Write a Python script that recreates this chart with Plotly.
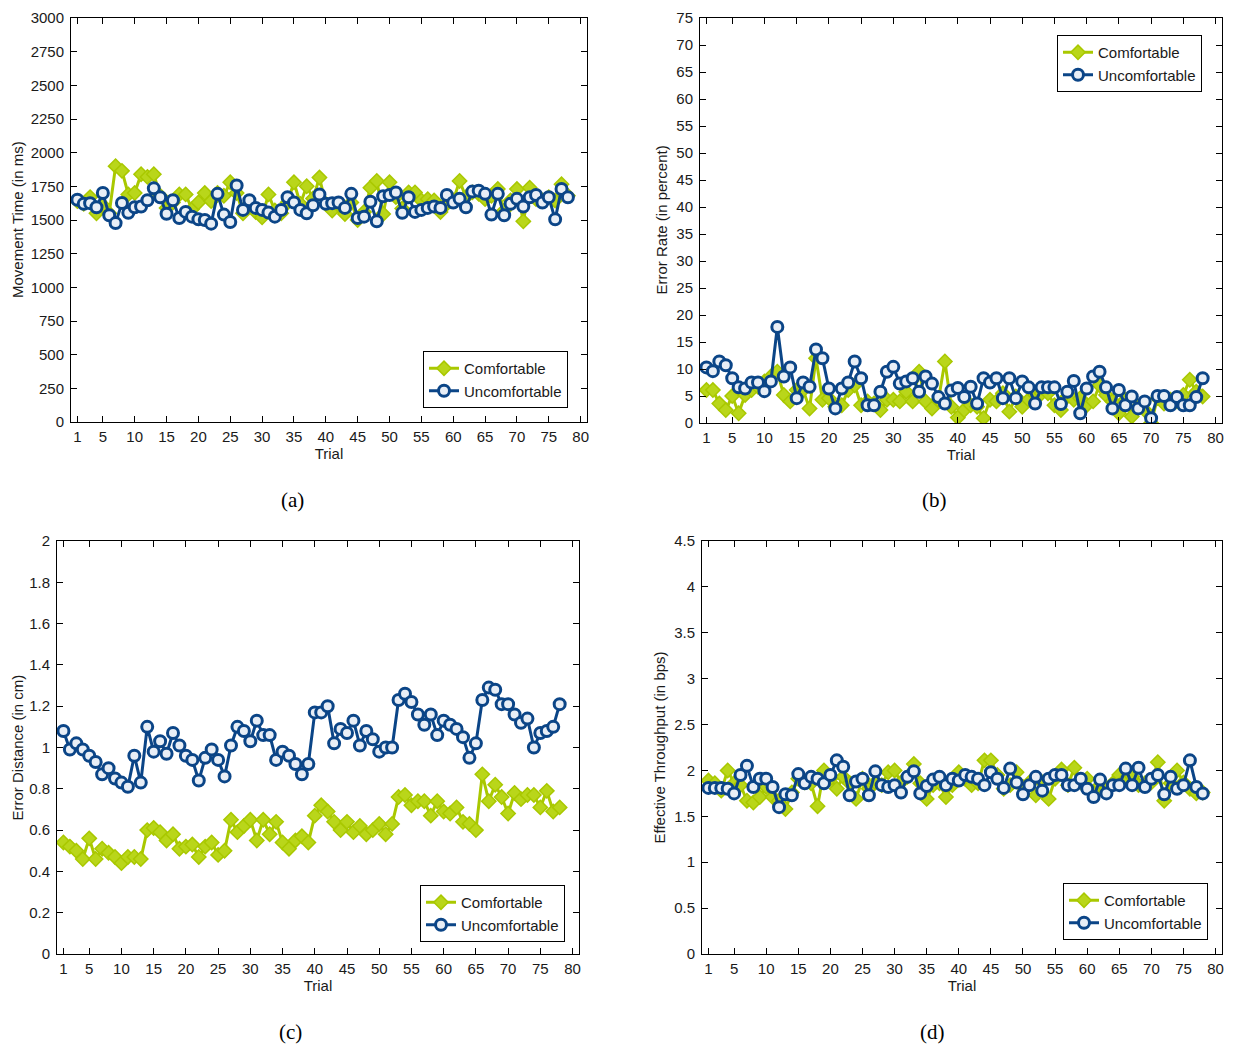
import plotly.graph_objects as go

trials = list(range(1, 79))
x_ticks = [1, 5, 10, 15, 20, 25, 30, 35, 40, 45, 50, 55, 60, 65, 70, 75, 80]

# (a) Movement time (ms)
mt_comfortable = [1640, 1620, 1670, 1550, 1610, 1550, 1900, 1865, 1690, 1700, 1840, 1820, 1840, 1680, 1590, 1630,
                  1690, 1690, 1580, 1630, 1700, 1640, 1700, 1680, 1780, 1700, 1550, 1620, 1560, 1520, 1690, 1570,
                  1550, 1630, 1780, 1620, 1750, 1660, 1815, 1620, 1570, 1610, 1545, 1630, 1500, 1560, 1740, 1790,
                  1545, 1780, 1670, 1585, 1705, 1705, 1645, 1655, 1645, 1560, 1620, 1645, 1790, 1670, 1705, 1695,
                  1655, 1680, 1730, 1570, 1645, 1730, 1490, 1740, 1655, 1645, 1670, 1645, 1765, 1680]
mt_uncomfortable = [1650, 1620, 1625, 1595, 1700, 1535, 1477, 1627, 1553, 1595, 1600, 1647, 1735, 1669, 1546, 1647,
                    1515, 1560, 1525, 1505, 1500, 1473, 1694, 1540, 1485, 1756, 1575, 1647, 1590, 1575, 1555, 1525,
                    1575, 1669, 1630, 1575, 1550, 1610, 1690, 1620, 1625, 1630, 1590, 1694, 1515, 1525, 1635, 1490,
                    1676, 1686, 1705, 1553, 1669, 1560, 1575, 1590, 1600, 1590, 1686, 1630, 1657, 1595, 1711, 1718,
                    1694, 1540, 1694, 1535, 1620, 1657, 1600, 1669, 1686, 1630, 1669, 1505, 1730, 1669]

# (b) Error rate (percent)
er_comfortable = [6.1, 6.1, 3.6, 2.4, 5.0, 1.8, 5.2, 6.1, 6.7, 7.7, 8.6, 9.5, 5.2, 4.0, 6.1, 6.1, 2.7, 12.0, 4.3,
                  4.6, 3.0, 3.3, 6.1, 7.0, 3.3, 4.0, 3.6, 2.4, 4.3, 4.3, 4.0, 5.8, 4.0, 9.5, 4.0, 2.7, 4.3, 11.4,
                  3.0, 1.0, 2.4, 3.3, 3.0, 0.9, 4.3, 4.0, 5.5, 2.1, 4.9, 3.0, 4.3, 5.2, 5.5, 5.5, 3.3, 2.4, 4.9,
                  4.3, 4.6, 3.3, 4.0, 7.0, 5.2, 4.0, 1.8, 4.3, 1.2, 3.0, 2.4, 0.0, 4.6, 3.6, 4.3, 4.0, 5.2, 8.0,
                  5.8, 4.9]
er_uncomfortable = [10.3, 9.6, 11.4, 10.7, 8.3, 6.6, 6.4, 7.5, 7.5, 5.9, 7.7, 17.8, 8.6, 10.3, 4.6, 7.5, 6.7, 13.6,
                    12.0, 6.4, 2.7, 6.4, 7.5, 11.4, 8.3, 3.3, 3.3, 5.8, 9.5, 10.4, 7.3, 7.7, 8.3, 5.8, 8.6, 7.3,
                    4.8, 3.6, 6.0, 6.5, 4.8, 6.7, 3.6, 8.3, 7.5, 8.3, 4.6, 8.3, 4.6, 7.7, 6.6, 3.6, 6.6, 6.6, 6.6,
                    3.5, 5.8, 7.8, 1.8, 6.4, 8.6, 9.5, 6.6, 2.7, 6.1, 3.3, 4.9, 2.7, 4.0, 0.9, 5.0, 5.0, 3.3, 4.8,
                    3.3, 3.3, 4.8, 8.3]

# (c) Error distance (cm)
ed_comfortable = [0.54, 0.52, 0.50, 0.46, 0.56, 0.46, 0.51, 0.49, 0.47, 0.44, 0.47, 0.47, 0.46, 0.60, 0.61, 0.59,
                  0.55, 0.58, 0.51, 0.52, 0.53, 0.47, 0.52, 0.54, 0.48, 0.50, 0.65, 0.59, 0.62, 0.65, 0.55, 0.65,
                  0.58, 0.64, 0.54, 0.51, 0.55, 0.57, 0.54, 0.67, 0.72, 0.69, 0.64, 0.60, 0.64, 0.59, 0.62, 0.58,
                  0.60, 0.63, 0.58, 0.63, 0.76, 0.77, 0.72, 0.74, 0.74, 0.67, 0.74, 0.69, 0.68, 0.71, 0.64, 0.63,
                  0.60, 0.87, 0.74, 0.82, 0.76, 0.68, 0.78, 0.75, 0.77, 0.77, 0.71, 0.79, 0.69, 0.71]
ed_uncomfortable = [1.08, 0.99, 1.02, 0.99, 0.96, 0.93, 0.87, 0.90, 0.85, 0.83, 0.81, 0.96, 0.83, 1.10, 0.98, 1.03,
                    0.97, 1.07, 1.01, 0.96, 0.94, 0.84, 0.95, 0.99, 0.94, 0.86, 1.01, 1.10, 1.08, 1.03, 1.13, 1.06,
                    1.06, 0.94, 0.98, 0.96, 0.92, 0.87, 0.92, 1.17, 1.17, 1.20, 1.02, 1.09, 1.07, 1.13, 1.01, 1.08,
                    1.04, 0.98, 1.00, 1.00, 1.23, 1.26, 1.22, 1.16, 1.11, 1.16, 1.06, 1.13, 1.11, 1.09, 1.05, 0.95,
                    1.02, 1.23, 1.29, 1.28, 1.21, 1.21, 1.16, 1.12, 1.14, 1.00, 1.07, 1.08, 1.10, 1.21]

# (d) Effective throughput (bps)
tp_comfortable = [1.89, 1.86, 1.78, 2.00, 1.86, 1.84, 1.67, 1.65, 1.71, 1.82, 1.71, 1.67, 1.58, 1.76, 1.91, 1.87,
                  1.86, 1.61, 2.00, 1.91, 1.80, 1.93, 1.86, 1.69, 1.91, 1.80, 1.87, 1.84, 1.98, 2.00, 1.87, 1.93,
                  2.07, 1.86, 1.69, 1.84, 1.86, 1.71, 1.84, 1.98, 1.91, 1.84, 1.86, 2.11, 2.11, 1.95, 1.80, 1.84,
                  1.98, 1.82, 1.87, 1.73, 1.87, 1.69, 1.91, 2.01, 1.84, 2.03, 1.87, 1.91, 1.76, 1.84, 1.80, 1.86,
                  1.95, 1.91, 1.93, 1.84, 1.86, 1.87, 2.09, 1.67, 1.86, 2.00, 1.87, 1.80, 1.75, 1.76]
tp_uncomfortable = [1.81, 1.81, 1.81, 1.80, 1.75, 1.95, 2.05, 1.82, 1.91, 1.91, 1.82, 1.60, 1.74, 1.73, 1.96, 1.86,
                    1.93, 1.91, 1.86, 1.95, 2.11, 2.04, 1.73, 1.88, 1.91, 1.73, 1.99, 1.84, 1.82, 1.84, 1.76, 1.93,
                    1.99, 1.75, 1.83, 1.90, 1.93, 1.84, 1.91, 1.89, 1.95, 1.93, 1.91, 1.84, 1.98, 1.91, 1.81, 2.02,
                    1.87, 1.74, 1.84, 1.93, 1.78, 1.91, 1.95, 1.95, 1.84, 1.84, 1.91, 1.80, 1.71, 1.90, 1.75, 1.84,
                    1.84, 2.02, 1.84, 2.03, 1.82, 1.91, 1.95, 1.74, 1.93, 1.80, 1.84, 2.11, 1.82, 1.75]

series_names = ["Comfortable", "Uncomfortable"]
y_titles = ["Movement Time (in ms)", "Error Rate (in percent)", "Error Distance (in cm)",
            "Effective Throughput (in bps)"]
captions = ["(a)", "(b)", "(c)", "(d)"]
y_ranges = [[0, 3000], [0, 75], [0, 2], [0, 4.5]]
y_dticks = [250, 5, 0.2, 0.5]

GREEN = "#a9c800"
BLUE = "#0b4587"
FONT = "Liberation Sans, Arial, sans-serif"

# figure size chosen so the page (with the browser's 8px body margin) fits the window
W, H, OFFX, OFFY = 1217, 1036, 8, 8


def xdom(x0, x1):
    return [(x0 - OFFX) / W, (x1 - OFFX) / W]


def ydom(top, bottom):
    return [1 - (bottom - OFFY) / H, 1 - (top - OFFY) / H]


def px(x):
    return (x - OFFX) / W


def py(y):
    return 1 - (y - OFFY) / H


# page-pixel boxes of the four plot areas: (left, right, top, bottom)
boxes = [(71, 587, 18, 422), (700, 1222, 18, 423), (57, 579, 541, 954), (702, 1222, 541, 954)]
legend_pos = [(568, 351), (1202, 35), (565, 885), (1208, 883)]
caption_pos = [(292, 500), (934, 500), (290, 1032), (932, 1032)]
ytitle_x = [17, 661, 17, 659]

data_pairs = [(mt_comfortable, mt_uncomfortable), (er_comfortable, er_uncomfortable),
              (ed_comfortable, ed_uncomfortable), (tp_comfortable, tp_uncomfortable)]

fig = go.Figure()
layout = dict(
    width=W, height=H, margin=dict(l=0, r=0, t=0, b=0, autoexpand=False),
    paper_bgcolor="white", plot_bgcolor="white",
    font=dict(family=FONT, size=15, color="#1a1a1a"),
    showlegend=True,
)
annotations = []

for i, (comf, unc) in enumerate(data_pairs):
    n = i + 1
    xa = "x" if n == 1 else f"x{n}"
    ya = "y" if n == 1 else f"y{n}"
    lg = "legend" if n == 1 else f"legend{n}"
    fig.add_trace(go.Scatter(
        x=trials, y=comf, name=series_names[0], mode="lines+markers",
        line=dict(color=GREEN, width=3),
        marker=dict(symbol="diamond", size=11, color="#b9d61a", line=dict(color=GREEN, width=1.5)),
        xaxis=xa, yaxis=ya, legend=lg))
    fig.add_trace(go.Scatter(
        x=trials, y=unc, name=series_names[1], mode="lines+markers",
        line=dict(color=BLUE, width=3),
        marker=dict(symbol="circle", size=11, color="#e8eef6", line=dict(color=BLUE, width=3)),
        xaxis=xa, yaxis=ya, legend=lg))

    l, r, t, b = boxes[i]
    axkey_x = "xaxis" if n == 1 else f"xaxis{n}"
    axkey_y = "yaxis" if n == 1 else f"yaxis{n}"
    common = dict(showline=True, linecolor="black", linewidth=1, mirror="ticks", ticks="inside",
                  ticklen=6, tickcolor="black", tickwidth=1, showgrid=False, zeroline=False,
                  automargin=False, ticklabeloverflow="allow",
                  tickfont=dict(family=FONT, size=15, color="#1a1a1a"))
    layout[axkey_x] = dict(domain=xdom(l, r), anchor=ya, range=[0, 81], tickmode="array",
                           tickvals=x_ticks, ticktext=[str(v) for v in x_ticks],
                           title=dict(text="Trial", standoff=2, font=dict(size=15)),
                           ticklabelstandoff=1, **common)
    layout[axkey_y] = dict(domain=ydom(t, b), anchor=xa, range=y_ranges[i], tick0=0,
                           dtick=y_dticks[i], ticklabelstandoff=3, **common)
    lx, ly = legend_pos[i]
    layout[lg] = dict(x=px(lx), y=py(ly), xanchor="right", yanchor="top", xref="paper", yref="paper",
                      bgcolor="white", bordercolor="black", borderwidth=1,
                      font=dict(family=FONT, size=15, color="#1a1a1a"), tracegroupgap=0)
    cx, cy = caption_pos[i]
    annotations.append(dict(text=captions[i], x=px(cx), y=py(cy), xref="paper", yref="paper",
                            showarrow=False, xanchor="center", yanchor="middle",
                            font=dict(family="Liberation Serif, DejaVu Serif, serif", size=21, color="black")))
    annotations.append(dict(text=y_titles[i], x=px(ytitle_x[i]), y=py((t + b) / 2), xref="paper", yref="paper",
                            showarrow=False, textangle=-90, xanchor="center", yanchor="middle",
                            font=dict(family=FONT, size=15, color="#1a1a1a")))

layout["annotations"] = annotations
fig.update_layout(**layout)
fig.write_html("out.html")
